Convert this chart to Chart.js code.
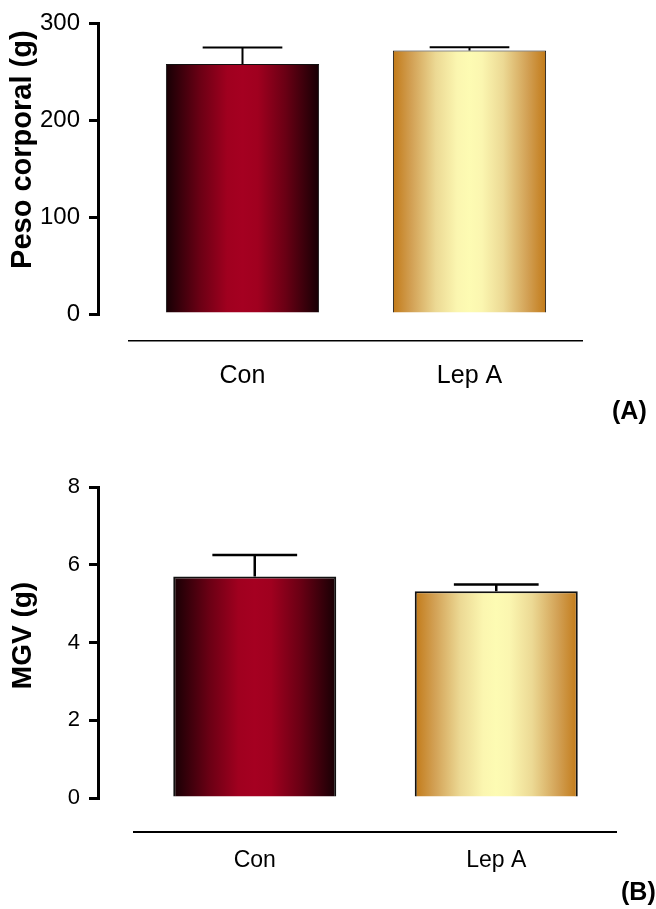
<!DOCTYPE html>
<html>
<head>
<meta charset="utf-8">
<script src="https://cdn.jsdelivr.net/npm/chart.js@4.4.1/dist/chart.umd.min.js"></script>
<style>
  html, body { margin:0; padding:0; background:#fff; }
  body { width:656px; height:909px; position:relative; overflow:hidden;
         font-family:"Liberation Sans", Arial, sans-serif; }
  .box { position:absolute; left:0; width:656px; }
  #boxA { top:0; height:401px; }
  #boxB { top:450px; height:442px; }
  .panel { position:absolute; font-weight:bold; font-size:25px; line-height:25px; color:#000; white-space:nowrap; }
</style>
</head>
<body>
<div class="box" id="boxA"><canvas id="chartA"></canvas></div>
<div class="box" id="boxB"><canvas id="chartB"></canvas></div>
<div class="panel" style="left:612px; top:398px">(A)</div>
<div class="panel" style="left:621px; top:879px">(B)</div>

<script>
/* =========================
   DATA
========================= */
const groups = ['Con', 'Lep A'];

const pesoMean = [258, 272];
const pesoSem = [17, 3.5];
const pesoTicks = [0, 100, 200, 300];

const mgvMean = [5.70, 5.32];
const mgvSem = [0.55, 0.17];
const mgvTicks = [0, 2, 4, 6, 8];

/* =========================
   STYLE
========================= */
const FONT = '"Liberation Sans", Arial, sans-serif';

// colour stops for the horizontal shading of each bar
const fills = [
    [[0, '#160004'], [0.22, '#6a0014'], [0.4, '#a0001f'], [0.5, '#a50021'], [0.6, '#a0001f'], [0.78, '#6a0014'], [1, '#160004']],
    [[0, '#c27a18'], [0.12, '#d2a054'], [0.28, '#ecd994'], [0.42, '#fbf6b0'], [0.5, '#fdfbb3'], [0.58, '#fbf6b0'], [0.72, '#ecd994'], [0.88, '#d2a054'], [1, '#c27a18']]
];

function barFill(c){
    const stops = fills[c.dataIndex] || fills[0];
    const chart = c.chart;
    const xs = chart.scales.x;
    if(c.type !== 'data' || !chart.chartArea || !xs){
        return stops[Math.floor(stops.length / 2)][1];
    }
    const ds = chart.data.datasets[c.datasetIndex];
    const w = xs.width / groups.length * ds.barPercentage;
    const cx = xs.getPixelForValue(c.dataIndex);
    const g = chart.ctx.createLinearGradient(cx - w / 2, 0, cx + w / 2, 0);
    stops.forEach(s => g.addColorStop(s[0], s[1]));
    return g;
}

/* =========================
   ERROR BARS (mean + SEM)
========================= */
const errorBars = {
    id: 'errorBars',
    afterDatasetsDraw(chart){
        const ctx = chart.ctx;
        const ys = chart.scales.y;
        chart.data.datasets.forEach((ds, di) => {
            chart.getDatasetMeta(di).data.forEach((bar, i) => {
                const top = ys.getPixelForValue(ds.data[i] + ds.sem[i]);
                const half = bar.width * 0.26;
                ctx.save();
                ctx.strokeStyle = '#000';
                ctx.lineWidth = ds.errWidth;
                ctx.beginPath();
                ctx.moveTo(bar.x, bar.y);
                ctx.lineTo(bar.x, top);
                ctx.moveTo(bar.x - half, top);
                ctx.lineTo(bar.x + half, top);
                ctx.stroke();
                ctx.restore();
            });
        });
    }
};

/* =========================
   Y TITLE (rotated, placed
   a little above centre)
========================= */
const yTitle = {
    id: 'yTitle',
    afterDraw(chart, args, opts){
        const ys = chart.scales.y;
        const ctx = chart.ctx;
        ctx.save();
        ctx.font = 'bold ' + opts.size + 'px ' + FONT;
        ctx.fillStyle = '#000';
        ctx.textAlign = 'center';
        ctx.textBaseline = 'middle';
        ctx.translate(ys.left + opts.inset, (ys.top + ys.bottom) / 2 + opts.shift);
        ctx.rotate(-Math.PI / 2);
        ctx.fillText(opts.text, 0, 0);
        ctx.restore();
    }
};

/* =========================
   CHART BUILDER
========================= */
function makeChart(id, cfg){
    return new Chart(document.getElementById(id), {
        type: 'bar',
        data: {
            labels: groups,
            datasets: [{
                data: cfg.mean,
                sem: cfg.sem,
                errWidth: cfg.errWidth,
                backgroundColor: barFill,
                borderColor: '#111',
                borderWidth: cfg.barBorder,
                barPercentage: cfg.barPct,
                categoryPercentage: 1
            }]
        },
        options: {
            responsive: true,
            maintainAspectRatio: false,
            animation: false,
            layout: { padding: { top: cfg.padTop, right: cfg.padRight, bottom: 0, left: 0 } },
            plugins: {
                legend: { display: false },
                tooltip: { enabled: false },
                yTitle: { text: cfg.yTitle, size: cfg.titleSize, inset: 23, shift: cfg.titleShift }
            },
            scales: {
                y: {
                    position: 'left',
                    weight: 10,
                    min: 0,
                    max: cfg.ticks[cfg.ticks.length - 1],
                    afterBuildTicks: s => { s.ticks = cfg.ticks.map(v => ({ value: v })); },
                    ticks: { color: '#000', padding: 9, font: { family: FONT, size: cfg.tickSize } },
                    grid: { display: true, drawOnChartArea: false, drawTicks: true, tickLength: 9, lineWidth: 3, color: '#000' },
                    border: { display: true, width: 3, color: '#000' },
                    afterFit: s => { s.width = 98; }
                },
                gapY: {
                    axis: 'y',
                    type: 'linear',
                    position: 'left',
                    weight: 0,
                    ticks: { display: false },
                    grid: { display: false, drawTicks: false },
                    border: { display: false },
                    afterFit: s => { s.width = cfg.gapY; }
                },
                x: {
                    position: 'bottom',
                    weight: 10,
                    offset: true,
                    grid: { display: false, drawTicks: false, lineWidth: 0 },
                    border: { display: true, width: cfg.xLine, color: '#000' },
                    ticks: { color: '#000', padding: cfg.labelPad, font: { family: FONT, size: cfg.labelSize } },
                    afterFit: s => { s.height = 60; }
                },
                gapX: {
                    axis: 'x',
                    type: 'linear',
                    position: 'bottom',
                    weight: 0,
                    ticks: { display: false },
                    grid: { display: false, drawTicks: false },
                    border: { display: false },
                    afterFit: s => { s.height = cfg.gapX; }
                }
            }
        },
        plugins: [errorBars, yTitle]
    });
}

/* =========================
   PANELS
========================= */
makeChart('chartA', {
    mean: pesoMean, sem: pesoSem, ticks: pesoTicks,
    yTitle: 'Peso corporal (g)', titleSize: 29, titleShift: -19,
    tickSize: 24, labelSize: 25, labelPad: 20,
    padTop: 21, padRight: 73, gapY: 31, gapX: 27,
    barPct: 0.675, barBorder: 1, errWidth: 2, xLine: 1.5
});

makeChart('chartB', {
    mean: mgvMean, sem: mgvSem, ticks: mgvTicks,
    yTitle: 'MGV (g)', titleSize: 28, titleShift: -7,
    tickSize: 22, labelSize: 23, labelPad: 15,
    padTop: 37, padRight: 39, gapY: 36, gapX: 34,
    barPct: 0.675, barBorder: 2, errWidth: 2.5, xLine: 2
});
</script>
</body>
</html>
